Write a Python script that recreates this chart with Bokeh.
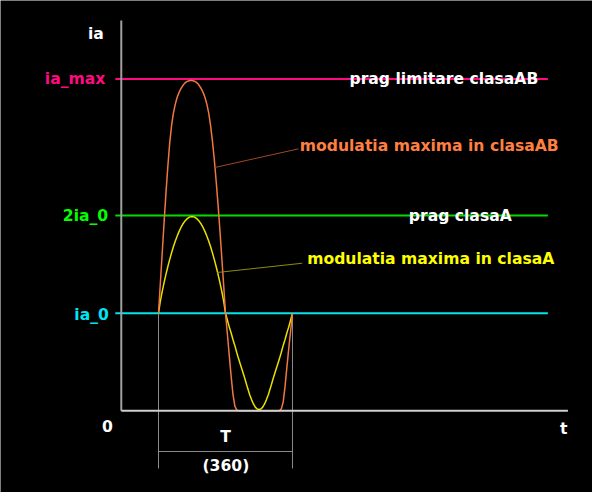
from bokeh.plotting import figure
from bokeh.models import Range1d, Label
from bokeh.embed import file_html
from bokeh.resources import INLINE

# phase angle over one period T (degrees)
theta = [0, 5, 10, 15, 20, 25, 30, 35, 40, 45, 50, 55, 60, 65, 70, 75, 80, 85, 90,
         95, 100, 105, 110, 115, 120, 125, 130, 135, 140, 145, 150, 155, 160, 165, 170, 175, 180,
         185, 190, 195, 200, 205, 210, 215, 220, 225, 230, 235, 240, 245, 250, 255, 260, 265, 270,
         275, 280, 285, 290, 295, 300, 305, 310, 315, 320, 325, 330, 335, 340, 345, 350, 355, 360]

# maximum modulation in class AB (units of ia_0)
ia_AB = [1.0, 1.31, 1.62, 1.93, 2.23, 2.50, 2.74, 2.92, 3.05, 3.14, 3.21, 3.26, 3.30, 3.33, 3.355, 3.37, 3.38, 3.385, 3.385,
         3.38, 3.37, 3.355, 3.33, 3.30, 3.26, 3.21, 3.14, 3.05, 2.92, 2.76, 2.57, 2.35, 2.11, 1.85, 1.57, 1.29, 1.0,
         0.79, 0.57, 0.36, 0.17, 0.05, 0.01,
         0.0, 0.0, 0.0, 0.0, 0.0, 0.0, 0.0, 0.0, 0.0, 0.0, 0.0, 0.0, 0.0, 0.0, 0.0, 0.0, 0.0, 0.0, 0.0, 0.0, 0.0, 0.0, 0.0,
         0.02, 0.09, 0.25, 0.45, 0.64, 0.82, 1.0]

# maximum modulation in class A (units of ia_0)
ia_A = [1.0, 1.124, 1.223, 1.314, 1.398, 1.476, 1.549, 1.617, 1.680, 1.737, 1.789, 1.836, 1.876, 1.911, 1.939, 1.961, 1.977, 1.987, 1.99,
        1.987, 1.977, 1.961, 1.939, 1.911, 1.876, 1.836, 1.789, 1.737, 1.680, 1.617, 1.549, 1.476, 1.398, 1.314, 1.223, 1.124, 1.0,
        0.93, 0.86, 0.80, 0.73, 0.67, 0.60, 0.535, 0.475, 0.415, 0.355, 0.29, 0.225, 0.165, 0.115, 0.07, 0.038, 0.019, 0.013,
        0.019, 0.038, 0.07, 0.115, 0.165, 0.225, 0.29, 0.355, 0.415, 0.475, 0.535, 0.60, 0.67, 0.73, 0.80, 0.86, 0.93, 1.0]

# reference levels
level_names = ["ia_0", "2ia_0", "ia_max"]
level_values = [1.0, 2.0, 3.4]
level_colors = ["#00e5ee", "#00dd00", "#ff0a80"]
level_text_colors = ["#00e5f0", "#00ff00", "#ff0a80"]
level_captions = ["", "prag clasaA", "prag limitare clasaAB"]

period_label = "T"
period_value = "(360)"

FONT = "DejaVu Sans"
FS = "15.6px"

p = figure(width=592, height=492, output_backend="svg", toolbar_location=None,
           x_range=Range1d(-424.5, 1166.0), y_range=Range1d(-0.837, 4.204),
           x_axis_type=None, y_axis_type=None, min_border=0)
p.background_fill_color = "black"
p.border_fill_color = "black"
p.outline_line_color = None
p.grid.visible = False

# horizontal reference lines
for v, c in zip(level_values, level_colors):
    p.segment(x0=[-116], y0=[v], x1=[1046], y1=[v], line_color=c, line_width=2)

# period guides
p.segment(x0=[0, 360, 0], y0=[level_values[0], level_values[0], -0.417],
          x1=[0, 360, 360], y1=[-0.591, -0.591, -0.417], line_color="#8a8a8a", line_width=1)

# curves
p.line(theta, ia_A, line_color="#e8e000", line_width=1.5)
p.line(theta, ia_AB, line_color="#f07840", line_width=1.5)

# leaders
p.segment(x0=[151.3], y0=[2.493], x1=[376], y1=[2.684], line_color="#9a4a28", line_width=1)
p.segment(x0=[157.7], y0=[1.417], x1=[386], y1=[1.512], line_color="#8c8c10", line_width=1)

# axes
p.segment(x0=[-100], y0=[0], x1=[-100], y1=[4.0], line_color="#a0a0a0", line_width=2)
p.segment(x0=[-100], y0=[0], x1=[1100], y1=[0], line_color="#d0d0d0", line_width=2)


def lab(x, y, text, color, align="left"):
    p.add_layout(Label(x=x, y=y, text=text, text_color=color, text_font=FONT,
                       text_font_size=FS, text_font_style="bold",
                       text_align=align, text_baseline="alphabetic"))


lab(-147.0, 3.862, "ia", "#ffffff", "right")
lab(-142.9, 3.401, level_names[2], level_text_colors[2], "right")
lab(-135.1, 1.994, level_names[1], level_text_colors[1], "right")
lab(-133.5, 0.986, level_names[0], level_text_colors[0], "right")
lab(-137.0, -0.151, "0", "#ffffff", "center")
lab(1078.7, -0.185, "t", "#ffffff", "left")
lab(180, -0.271, period_label, "#ffffff", "center")
lab(181, -0.568, period_value, "#ffffff", "center")

lab(513.1, 3.401, level_captions[2], "#ffffff")
lab(379.6, 2.711, "modulatia maxima in clasaAB", "#ff7f40")
lab(672.5, 2.001, level_captions[1], "#ffffff")
lab(399.5, 1.557, "modulatia maxima in clasaA", "#ffff00")

html = file_html(p, INLINE)
html = html.replace("<body>", '<body style="background:#000000;">', 1)
open("out.html", "w").write(html)
